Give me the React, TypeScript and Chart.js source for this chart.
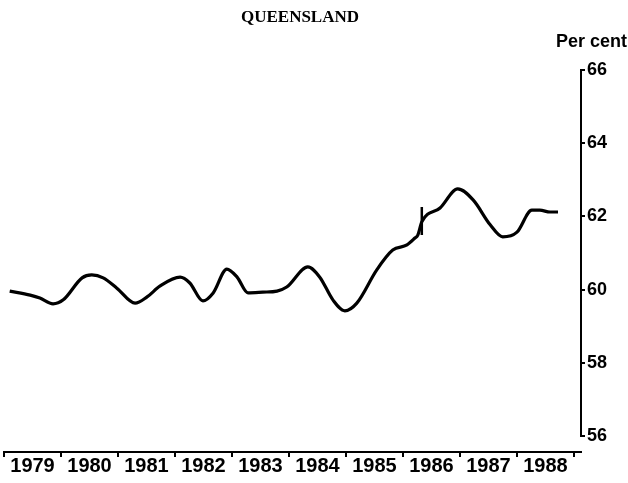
import React, { useEffect, useRef } from "react";
import { Chart, registerables } from "chart.js";

Chart.register(...registerables);

// ---- Data ----
const chartTitle = "QUEENSLAND";
const unitLabel = "Per cent";
const yearLabels = ["1979", "1980", "1981", "1982", "1983", "1984", "1985", "1986", "1987", "1988"];
const yTickValues = [56, 58, 60, 62, 64, 66];

const seriesYears = [
  1979.10, 1979.46, 1979.63, 1979.86, 1980.04, 1980.37, 1980.54, 1980.74, 1980.98,
  1981.30, 1981.51, 1981.74, 1982.09, 1982.26, 1982.49, 1982.67, 1982.91, 1983.09,
  1983.28, 1983.54, 1983.79, 1983.96, 1984.33, 1984.54, 1984.77, 1984.98, 1985.19,
  1985.54, 1985.82, 1986.07, 1986.21, 1986.26, 1986.33, 1986.65, 1986.96, 1987.23,
  1987.53, 1987.75, 1988.00, 1988.26, 1988.40, 1988.58, 1988.72,
];
const seriesValues = [
  59.96, 59.85, 59.77, 59.61, 59.72, 60.32, 60.40, 60.32, 60.04,
  59.63, 59.80, 60.10, 60.34, 60.18, 59.69, 59.91, 60.56, 60.34,
  59.91, 59.93, 59.96, 60.07, 60.62, 60.34, 59.72, 59.42, 59.63,
  60.54, 61.08, 61.22, 61.41, 61.49, 61.85, 62.23, 62.75, 62.45,
  61.77, 61.44, 61.57, 62.17, 62.17, 62.12, 62.12,
];
// vertical break marker in the series
const breakYears = [1986.33, 1986.33];
const breakValues = [62.26, 61.49];

const headingPlugin = {
  id: "headings",
  afterDraw(chart: any) {
    const ctx = chart.ctx;
    ctx.save();
    ctx.fillStyle = "#000";
    ctx.textBaseline = "middle";
    ctx.font = 'bold 17px "Liberation Serif"';
    ctx.textAlign = "center";
    ctx.fillText(chartTitle, 300, 18);
    ctx.font = 'bold 18px "Liberation Sans"';
    ctx.textAlign = "right";
    ctx.fillText(unitLabel, chart.width - 1, 42);
    ctx.restore();
  },
};

export default function App() {
  const canvasRef = useRef<HTMLCanvasElement | null>(null);

  useEffect(() => {
    if (!canvasRef.current) return;
    const lineData = seriesYears.map((x, i) => ({ x, y: seriesValues[i] }));
    const breakData = breakYears.map((x, i) => ({ x, y: breakValues[i] }));
    const yearTicks = yearLabels.map((l) => Number(l) + 0.5);

    const chart = new Chart(canvasRef.current, {
      type: "line",
      data: {
        datasets: [
          {
            data: lineData,
            borderColor: "#000",
            borderWidth: 3.2,
            pointRadius: 0,
            cubicInterpolationMode: "monotone",
            fill: false,
          },
          {
            data: breakData,
            borderColor: "#000",
            borderWidth: 2.5,
            pointRadius: 0,
            tension: 0,
            fill: false,
          },
        ],
      },
      plugins: [headingPlugin],
      options: {
        animation: false,
        responsive: true,
        maintainAspectRatio: false,
        layout: { padding: { left: 4, right: 0, top: 70, bottom: 47 } },
        plugins: {
          legend: { display: false },
          tooltip: { enabled: false },
          title: { display: false },
        },
        scales: {
          x: {
            type: "linear",
            min: 1979,
            max: 1989.123,
            position: { y: 55.563 } as any,
            afterBuildTicks: (s: any) => {
              s.ticks = yearTicks.map((v) => ({ value: v }));
            },
            ticks: {
              callback: (_v: any, i: number) => yearLabels[i],
              color: "#000",
              font: { family: '"Liberation Sans"', size: 20, weight: "bold", lineHeight: 1 },
              padding: 0,
              maxRotation: 0,
              autoSkip: false,
            },
            grid: {
              offset: true,
              drawOnChartArea: false,
              drawTicks: true,
              tickLength: 4,
              color: "#000",
              lineWidth: 2,
            },
            border: { display: true, color: "#000", width: 2 },
          },
          y: {
            type: "linear",
            position: "right",
            min: 56,
            max: 66,
            afterBuildTicks: (s: any) => {
              s.ticks = yTickValues.map((v) => ({ value: v }));
            },
            afterFit: (s: any) => {
              s.width = 47;
            },
            ticks: {
              color: "#000",
              font: { family: '"Liberation Sans"', size: 18, weight: "bold" },
              padding: 2,
            },
            grid: {
              drawOnChartArea: false,
              drawTicks: true,
              tickLength: 4,
              color: "#000",
              lineWidth: 2,
            },
            border: { display: true, color: "#000", width: 2 },
          },
        },
      },
    });
    return () => chart.destroy();
  }, []);

  return (
    <div style={{ position: "absolute", left: 0, top: 0, width: 628, height: 483, background: "#fff" }}>
      <canvas ref={canvasRef} />
    </div>
  );
}
